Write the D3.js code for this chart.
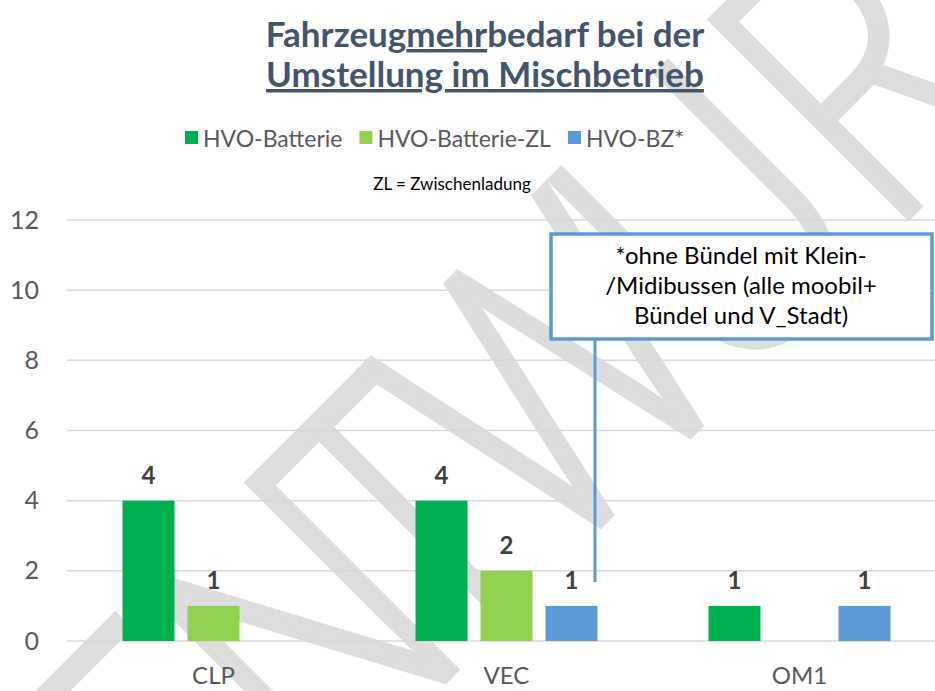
<!DOCTYPE html>
<html>
<head>
<meta charset="utf-8">
<script src="https://cdn.jsdelivr.net/npm/d3@7"></script>
<style>
body{margin:0;background:#fff;}
text{font-family:Lato,"Open Sans",sans-serif;}
</style>
</head>
<body>
<svg id="chart" width="935" height="691"></svg>
<script>
// data
var categories=["CLP","VEC","OM1"];
var seriesNames=["HVO-Batterie","HVO-Batterie-ZL","HVO-BZ*"];
var hvoBatterie=[4,4,1];
var hvoBatterieZL=[1,2,null];
var hvoBZ=[null,1,1];
var yTicks=[0,2,4,6,8,10,12];
var seriesColors=["#00B050","#92D050","#5B9BD5"];
var noteLines=["*ohne Bündel mit Klein-","/Midibussen (alle moobil+","Bündel und V_Stadt)"];
var watermarkLetters=["E","N","T","W","U","R","F"];
// where each watermark letter sits along its diagonal baseline
var watermarkPos=[-420,-232,-76,124,345,550,725];

var svg=d3.select("#chart");
var width=+svg.attr("width");
var height=+svg.attr("height");

var seriesValues=[hvoBatterie,hvoBatterieZL,hvoBZ];
var rows=[];
categories.forEach(function(c,i){
  seriesNames.forEach(function(s,j){
    rows.push({cat:c,series:s,value:seriesValues[j][i],color:seriesColors[j]});
  });
});

// watermark "ENTWURF" drawn behind everything, rotated -45deg
var baseSum=1125;
svg.append("g").selectAll("text").data(watermarkLetters).enter().append("text")
  .attr("transform",function(d,i){
    var s=watermarkPos[i]*Math.SQRT2;
    var px=(baseSum+s)/2, py=(baseSum-s)/2;
    return "translate("+px+","+py+") rotate(-45) scale(0.8,1)";
  })
  .attr("text-anchor","middle")
  .style("font-family","'Open Sans',Lato,sans-serif")
  .style("font-weight",300)
  .style("font-size","390px")
  .attr("fill","#dddddd")
  .style("stroke","#dddddd").style("stroke-width",7)
  .text(function(d){return d;});

var x0=d3.scaleBand().domain(categories).range([67,946]);
var x1=d3.scaleBand().domain(seriesNames).range([0,x0.bandwidth()]).paddingInner(0.2).paddingOuter(0.854);
var y=d3.scaleLinear().domain([0,12]).range([641,220]);

// grid
svg.append("g").selectAll("line").data(yTicks).enter().append("line")
  .attr("x1",67).attr("x2",width)
  .attr("y1",function(d){return y(d);}).attr("y2",function(d){return y(d);})
  .style("stroke","#d9d9d9").style("stroke-width",1.5);

var yAxis=svg.append("g").attr("transform","translate(39,0)")
  .call(d3.axisLeft(y).tickValues(yTicks).tickSize(0).tickPadding(0));
yAxis.select(".domain").remove();
yAxis.selectAll("text").style("font-size","25px").attr("fill","#595959").style("font-family","Lato,sans-serif");

var xAxis=svg.append("g").attr("transform","translate(0,662)")
  .call(d3.axisBottom(x0).tickSize(0).tickPadding(0));
xAxis.select(".domain").remove();
xAxis.selectAll("text").style("font-size","24px").attr("fill","#595959").attr("dy","0.9em").style("font-family","Lato,sans-serif");

// bars
var bars=rows.filter(function(d){return d.value!=null;});
svg.append("g").selectAll("rect").data(bars).enter().append("rect")
  .attr("x",function(d){return x0(d.cat)+x1(d.series);})
  .attr("width",x1.bandwidth())
  .attr("y",function(d){return y(d.value);})
  .attr("height",function(d){return y(0)-y(d.value);})
  .attr("fill",function(d){return d.color;});

svg.append("g").selectAll("text").data(bars).enter().append("text")
  .attr("x",function(d){return x0(d.cat)+x1(d.series)+x1.bandwidth()/2;})
  .attr("y",function(d){return y(d.value)-17;})
  .attr("text-anchor","middle")
  .style("font-size","24px").style("font-weight","bold").attr("fill","#404040")
  .text(function(d){return d.value;});

// title
var title=svg.append("text").attr("text-anchor","middle").attr("fill","#44546A")
  .style("font-size","35px").style("font-weight","bold");
var t1=title.append("tspan").attr("x",485).attr("y",47);
t1.append("tspan").text("Fahrzeug");
t1.append("tspan").style("text-decoration","underline").text("mehr");
t1.append("tspan").text("bedarf bei der");
title.append("tspan").attr("x",485).attr("y",87).style("text-decoration","underline").text("Umstellung im Mischbetrieb");

// legend
var legend=svg.append("g");
var lx=185;
seriesNames.forEach(function(s,i){
  legend.append("rect").attr("x",lx).attr("y",131).attr("width",13).attr("height",13).attr("fill",seriesColors[i]);
  var t=legend.append("text").attr("x",lx+18).attr("y",147).style("font-size","23px").attr("fill","#595959").text(s);
  lx=lx+18+t.node().getComputedTextLength()+17;
});

svg.append("text").attr("x",452).attr("y",190).attr("text-anchor","middle")
  .style("font-size","17px").attr("fill","#000").text("ZL = Zwischenladung");

// note box and leader line
svg.append("line").attr("x1",595).attr("x2",595).attr("y1",340).attr("y2",582)
  .style("stroke","#5B9BD5").style("stroke-width",3);
svg.append("rect").attr("x",551).attr("y",234).attr("width",381).attr("height",105)
  .attr("fill","#fff").style("stroke","#5B9BD5").style("stroke-width",3.5);
svg.append("g").selectAll("text").data(noteLines).enter().append("text")
  .attr("x",741).attr("y",function(d,i){return 264+i*30;})
  .attr("text-anchor","middle").style("font-size","24px").attr("fill","#000")
  .text(function(d){return d;});
</script>
</body>
</html>
